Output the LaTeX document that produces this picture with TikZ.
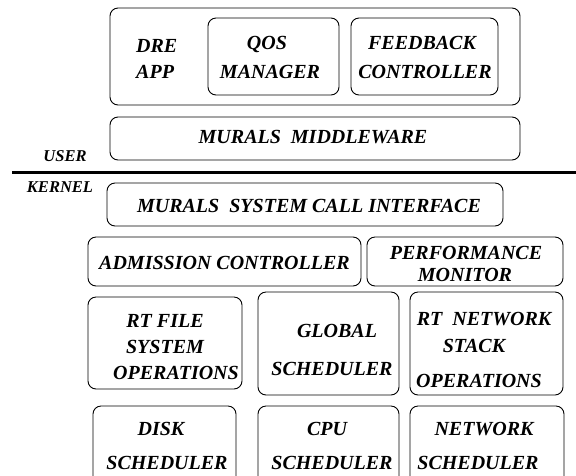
\documentclass[tikz,border=0pt]{standalone}
\usepackage{fontspec}
\setmainfont{Liberation Serif}
\usetikzlibrary{fit}
\begin{document}
\begin{tikzpicture}[x=1pt,y=-1pt,
  box/.style={draw, line width=0.9pt, rounded corners=8pt, inner sep=0pt, outer sep=0pt},
  lbl/.style={font=\fontsize{20}{24}\selectfont\bfseries\itshape, inner sep=0pt, anchor=base},
  side/.style={font=\fontsize{16.5}{20}\selectfont\bfseries\itshape, inner sep=0pt, anchor=base}]
\useasboundingbox (0,0) rectangle (576,475);
\clip (0,0) rectangle (576,475);

% user-space layers
\node[box, fit={(110,8) (520,105)}] (app) {};
\node[box, fit={(208,18) (339,95)}] (qos) {};
\node[box, fit={(351,18) (498,95)}] (fb) {};
\node[box, fit={(110,117) (520,160)}] (mw) {};

\node[lbl, anchor=base west] (dre1) at (136,52) {DRE};
\node[lbl, anchor=base west] (dre2) at (136,78) {APP};
\node[lbl] (qos1) at (267,49) {QOS};
\node[lbl] (qos2) at (270,78) {MANAGER};
\node[lbl] (fb1) at (422,49) {FEEDBACK};
\node[lbl] (fb2) at (425,78) {CONTROLLER};
\node[lbl] (mw1) at (313,143) {MURALS\ \ MIDDLEWARE};

% user / kernel boundary
\node[side] (user) at (65,161) {USER};
\coordinate (bl) at (12,172);
\coordinate (br) at (576,172);
\draw[line width=3pt] (bl) -- (br);
\node[side] (kernel) at (60,192) {KERNEL};

% kernel-space layers
\node[box, fit={(107,183) (503,226)}] (sci) {};
\node[lbl] (sci1) at (309,212) {MURALS\ \ SYSTEM CALL INTERFACE};

\node[box, fit={(88,237) (361,286)}] (adm) {};
\node[lbl] (adm1) at (224.5,269) {ADMISSION CONTROLLER};
\node[box, fit={(367,237) (563,286)}] (perf) {};
\node[lbl] (perf1) at (466,259) {PERFORMANCE};
\node[lbl] (perf2) at (465,281) {MONITOR};

\node[box, fit={(88,297) (242,389)}] (rtfs) {};
\node[lbl] (rtfs1) at (165,327) {RT FILE};
\node[lbl] (rtfs2) at (165,353) {SYSTEM};
\node[lbl] (rtfs3) at (176,379) {OPERATIONS};

\node[box, fit={(258,292) (399,395)}] (glob) {};
\node[lbl] (glob1) at (337,337) {GLOBAL};
\node[lbl] (glob2) at (332,375) {SCHEDULER};

\node[box, fit={(410,292) (563,395)}] (rtnet) {};
\node[lbl] (rtnet1) at (484,325) {RT\ \ NETWORK};
\node[lbl] (rtnet2) at (474,352) {STACK};
\node[lbl] (rtnet3) at (479,387) {OPERATIONS};

\node[box, fit={(93,406) (236,492)}] (disk) {};
\node[lbl] (disk1) at (161,435) {DISK};
\node[lbl] (disk2) at (167,469) {SCHEDULER};

\node[box, fit={(258,406) (399,492)}] (cpu) {};
\node[lbl] (cpu1) at (327,435) {CPU};
\node[lbl] (cpu2) at (332,469) {SCHEDULER};

\node[box, fit={(410,406) (564,492)}] (net) {};
\node[lbl] (net1) at (484,435) {NETWORK};
\node[lbl] (net2) at (478,469) {SCHEDULER};
\end{tikzpicture}
\end{document}
